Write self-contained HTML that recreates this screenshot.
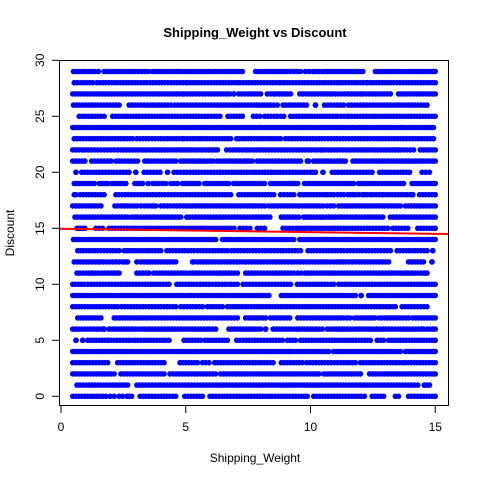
<!DOCTYPE html>
<html><head><meta charset="utf-8"><style>
html,body{margin:0;padding:0;background:#fff}
svg{display:block;font-family:"Liberation Sans",Arial,sans-serif}
</style></head><body>
<svg id="chart" width="480" height="480" viewBox="0 0 480 480">
<rect width="480" height="480" fill="#fff"/>
<text x="255" y="37" text-anchor="middle" font-size="13" font-weight="bold">Shipping_Weight vs Discount</text>
<text x="255" y="462" text-anchor="middle" font-size="12">Shipping_Weight</text>
<text x="0" y="0" transform="translate(14,233) rotate(-90)" text-anchor="middle" font-size="12">Discount</text>
<g id="pts"></g>
<g id="axes"></g>
<rect x="59.5" y="60.5" width="389" height="345" fill="none" stroke="#000" stroke-width="1"/>
</svg>
<script>
const xTicks=[0,5,10,15];
const yTicks=[0,5,10,15,20,25,30];
const regIntercept=14.96;
const regSlope=-0.0302;
// rows: discount value -> segments of shipping weight where points are dense
const rowValues=[0,1,2,3,4,5,6,7,8,9,10,11,12,13,14,15,16,17,18,19,20,21,22,23,24,25,26,27,28,29];
const rowSegments=[
[[0.47,1.8],[1.97,2.13],[2.33,2.47],[2.64,2.83],[3.17,4.6],[4.96,5.67],[5.97,9.87],[10.13,11.07],[11.17,12.16],[12.47,12.93],[13.4,13.53],[13.93,15]],
[[0.64,2.67],[3.04,6.2],[6.29,14.3],[14.56,14.77]],
[[0.47,2.13],[2.4,4.13],[4.37,6.2],[6.4,10.33],[10.53,12],[12.37,15]],
[[0.47,1.87],[2.27,4.13],[4.77,5.47],[5.67,5.93],[6.16,8.5],[8.83,9.67],[9.84,11.2],[11.33,11.8],[12,15]],
[[0.47,2.6],[2.67,5.6],[5.71,9.13],[9.2,10.73],[10.93,11.47],[11.6,12.53],[12.64,13.6],[13.8,15]],
[[0.6,0.6],[0.87,0.87],[1.07,2],[2.13,2.47],[2.6,4.33],[4.93,5.6],[5.76,6.67],[7.04,8.87],[9.07,9.4],[9.6,10.27],[10.4,12.4],[12.67,12.93],[13.13,15]],
[[0.47,1.67],[1.73,1.73],[1.93,4.27],[4.33,6.2],[6.73,8],[8.2,8.2],[8.5,9.47],[9.53,10.47],[10.67,11.27],[11.36,14.2],[14.33,14.53],[14.67,15]],
[[0.67,1.6],[2.13,2.8],[2.93,3.27],[3.4,4.27],[4.4,7.07],[7.4,8.2],[8.4,9.17],[9.49,11.57],[11.76,12.56],[12.73,13.93],[14.1,15]],
[[0.47,2.27],[2.43,3.4],[3.53,4],[4.13,4.6],[4.8,5.67],[5.87,6.47],[6.67,13.4],[13.67,14.67]],
[[0.47,5],[5.13,5.33],[5.47,5.6],[5.73,6.87],[7,8.33],[8.83,11.8],[12.03,12.03],[12.33,15]],
[[0.47,0.93],[1.07,4.33],[4.64,5.93],[6.07,7.07],[7.3,8.07],[8.2,9.2],[9.47,10.93],[11.13,12.6],[12.73,15]],
[[0.64,1.87],[2,2.33],[3.04,3.53],[3.73,7.07],[7.4,9.33],[9.49,9.63],[9.8,14.67]],
[[0.53,1.47],[1.57,2.33],[2.47,2.67],[3.04,3.2],[3.33,4],[4.13,4.6],[5.27,5.33],[5.47,8.37],[8.5,10.8],[10.93,11.8],[11.93,13.13],[13.93,14.53],[14.87,14.87]],
[[0.67,1.6],[1.73,2.33],[2.53,3.07],[3.2,4],[4.24,5.33],[5.47,6.67],[6.83,8.8],[8.9,9.6],[9.9,11.33],[11.47,13.2],[13.47,14.67],[14.9,14.9]],
[[0.5,6.2],[6.47,9.33],[9.57,10.67],[10.77,12.73],[12.8,15]],
[[0.64,0.96],[1.4,1.67],[1.93,6.67],[6.8,6.93],[7.17,7.57],[7.87,8.16],[8.9,9.3],[9.44,13.1],[13.3,13.9],[14.3,15]],
[[0.56,2.67],[2.83,3.87],[4,4.8],[5.04,7.93],[8.03,8.37],[8.83,9.53],[9.73,9.93],[10.03,10.4],[10.5,12.9],[13.2,15]],
[[0.47,1.6],[2.16,3.04],[3.2,3.47],[3.6,3.8],[4,4.77],[4.91,8.16],[8.33,10.5],[10.67,10.93],[11.13,12.53],[12.64,13.6],[13.8,15]],
[[0.53,0.6],[0.77,1.73],[2.2,3.2],[3.31,4.8],[4.91,5.87],[5.97,6.8],[7.13,8.53],[8.8,9.33],[9.57,10.6],[10.69,10.93],[11.09,11.33],[11.49,11.8],[11.93,12.07],[12.16,12.87],[12.93,14],[14.1,14.1],[14.37,15]],
[[0.53,1.33],[1.53,1.87],[2.03,2.6],[2.96,3.27],[3.49,3.67],[3.8,4.2],[4.4,4.67],[4.87,5.53],[5.76,6.73],[6.93,8.16],[8.4,9.49],[9.76,9.97],[10.1,11.73],[11.93,12.73],[12.87,13.73],[14.07,15]],
[[0.6,0.6],[0.83,2.73],[3,3],[3.33,3.97],[4.27,4.27],[4.53,4.93],[5.04,8.9],[9.04,9.87],[10,10.2],[10.5,10.5],[10.87,12.47],[12.77,13.97],[14.47,14.77]],
[[0.47,0.96],[1.23,2],[2.2,3.07],[3.36,4.6],[4.8,6.1],[6.27,7.13],[7.2,7.67],[7.87,9.6],[9.87,9.93],[10.13,11.4],[11.7,14.53],[14.67,15]],
[[0.47,1.47],[1.6,1.87],[2,2.27],[2.4,4.27],[4.4,6.27],[6.64,7.4],[7.49,10.4],[10.47,11.07],[11.2,13.3],[13.4,13.6],[13.73,14.13],[14.4,15]],
[[0.53,2.87],[3.04,4.87],[4.93,6.8],[7.04,8.8],[9,12.4],[12.53,14.93]],
[[0.47,6.6],[6.73,7.8],[7.93,8.03],[8.16,9.07],[9.2,13.6],[13.7,14.93]],
[[0.73,1.73],[2.07,6.37],[6.69,7.27],[7.71,7.97],[8.16,8.67],[8.8,8.93],[9.2,11],[11.07,11.47],[11.53,15]],
[[0.5,2.33],[2.73,3.47],[3.6,4.4],[4.56,7.73],[7.84,8.4],[8.53,8.67],[8.9,9.84],[10.2,10.2],[10.56,11.33],[11.53,14.67]],
[[0.47,4.87],[4.93,6.77],[6.93,6.93],[7.13,8],[8.27,8.53],[8.64,9.2],[9.57,10.77],[10.87,12],[12.1,13.2],[13.53,15]],
[[0.53,1.27],[1.44,3.33],[3.44,5],[5.07,7.07],[7.17,8.73],[8.83,11.07],[11.17,12.24],[12.3,13.33],[13.47,15]],
[[0.5,1.5],[1.73,2.96],[3.1,3.5],[3.67,4.64],[4.73,7.27],[7.8,8.64],[8.73,9.07],[9.2,9.6],[9.8,10.1],[10.2,10.47],[10.56,11.47],[11.6,12.1],[12.6,15]]
];
const NS='http://www.w3.org/2000/svg';
const xs=v=>61+24.95*v;
const ys=v=>396.3-11.2*v;
const pts=document.getElementById('pts');
const axes=document.getElementById('axes');
rowValues.forEach((rv,i)=>{
  rowSegments[i].forEach(seg=>{
    const n=Math.max(1,Math.round((seg[1]-seg[0])/0.12));
    for(let k=0;k<=n;k++){
      const xv=seg[0]+(seg[1]-seg[0])*k/n;
      const c=document.createElementNS(NS,'circle');
      
      
      c.setAttribute('cx',xs(xv));c.setAttribute('cy',ys(rv));c.setAttribute('r',2.8);
      c.setAttribute('fill','#0000ff');
      pts.appendChild(c);
    }
  });
});
const reg=document.createElementNS(NS,'line');


const xa=-0.08,xb=15.55;
reg.setAttribute('x1',xs(xa));reg.setAttribute('y1',ys(regIntercept+regSlope*xa));
reg.setAttribute('x2',xs(xb));reg.setAttribute('y2',ys(regIntercept+regSlope*xb));
reg.setAttribute('stroke','#ff0000');reg.setAttribute('stroke-width','2');
pts.appendChild(reg);
xTicks.forEach(t=>{
  const l=document.createElementNS(NS,'line');
  
  
  l.setAttribute('x1',xs(t));l.setAttribute('x2',xs(t));l.setAttribute('y1',406);l.setAttribute('y2',413);
  l.setAttribute('stroke','#000');axes.appendChild(l);
  const tx=document.createElementNS(NS,'text');
  
  
  tx.setAttribute('x',xs(t));tx.setAttribute('y',431);tx.setAttribute('text-anchor','middle');tx.setAttribute('font-size','12');
  tx.textContent=t;axes.appendChild(tx);
});
yTicks.forEach(t=>{
  const l=document.createElementNS(NS,'line');
  
  
  l.setAttribute('y1',ys(t));l.setAttribute('y2',ys(t));l.setAttribute('x1',52);l.setAttribute('x2',59);
  l.setAttribute('stroke','#000');axes.appendChild(l);
  const tx=document.createElementNS(NS,'text');
  
  
  tx.setAttribute('transform','translate(44,'+ys(t)+') rotate(-90)');tx.setAttribute('text-anchor','middle');tx.setAttribute('font-size','12');
  tx.textContent=t;axes.appendChild(tx);
});
</script>
</body></html>
